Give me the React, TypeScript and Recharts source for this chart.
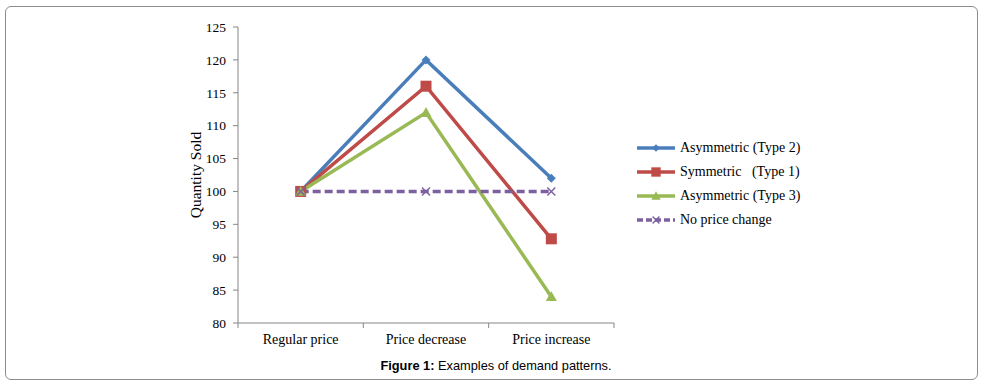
import { LineChart, Line, XAxis, YAxis } from 'recharts';

const categories = ['Regular price', 'Price decrease', 'Price increase'];
const asymType2 = [100, 120, 102];
const symType1 = [100, 116, 92.8];
const asymType3 = [100, 112, 84];
const noChange = [100, 100, 100];
const yTicks = [80, 85, 90, 95, 100, 105, 110, 115, 120, 125];

const series = [
  { key: 'type2', name: 'Asymmetric (Type 2)', color: '#4a7ebb', shape: 'diamond', dash: undefined },
  { key: 'type1', name: 'Symmetric   (Type 1)', color: '#be4b48', shape: 'square', dash: undefined },
  { key: 'type3', name: 'Asymmetric (Type 3)', color: '#98b954', shape: 'triangle', dash: undefined },
  { key: 'none', name: 'No price change', color: '#7d60a0', shape: 'cross', dash: '8 4' },
];

const data = categories.map((name, i) => ({
  x: i + 0.5,
  name,
  type2: asymType2[i],
  type1: symType1[i],
  type3: asymType3[i],
  none: noChange[i],
}));

const xTicks = [0, 0.5, 1, 1.5, 2, 2.5, 3];

const SERIF = '"Liberation Serif", "Times New Roman", serif';

function Marker({ cx, cy, shape, color, s = 1 }: any) {
  if (cx == null || cy == null) return null;
  if (shape === 'diamond') {
    const r = 4.5 * s;
    return <polygon points={`${cx},${cy - r} ${cx + r},${cy} ${cx},${cy + r} ${cx - r},${cy}`} fill={color} />;
  }
  if (shape === 'square') {
    const r = 5.5 * s;
    return <rect x={cx - r} y={cy - r} width={2 * r} height={2 * r} fill={color} />;
  }
  if (shape === 'triangle') {
    const r = 5.5 * s;
    return <polygon points={`${cx},${cy - r} ${cx + r},${cy + r * 0.8} ${cx - r},${cy + r * 0.8}`} fill={color} />;
  }
  const r = 4 * s;
  return (
    <g stroke={color} strokeWidth={1.4}>
      <line x1={cx - r} y1={cy - r} x2={cx + r} y2={cy + r} />
      <line x1={cx - r} y1={cy + r} x2={cx + r} y2={cy - r} />
    </g>
  );
}

function XTick({ x, y, payload }: any) {
  const v = payload.value;
  if (Number.isInteger(v)) {
    return <line x1={x} y1={y} x2={x} y2={y + 5} stroke="#868686" strokeWidth={1} />;
  }
  const label = categories[Math.floor(v)];
  return (
    <text x={x} y={y + 21} textAnchor="middle" fontFamily={SERIF} fontSize={14} fill="#000">
      {label}
    </text>
  );
}

export default function App() {
  return (
    <div style={{ position: 'absolute', left: 0, top: 0, width: 992, height: 390, background: '#fff' }}>
      <div
        style={{
          position: 'absolute',
          left: 5,
          top: 6,
          width: 971,
          height: 372,
          border: '1px solid #8c8c8c',
          borderRadius: 6,
        }}
      />
      <div style={{ position: 'absolute', left: 0, top: 0 }}>
        <LineChart width={992} height={390} data={data} margin={{ top: 27, right: 378, bottom: 37, left: 178 }}>
          <XAxis
            dataKey="x"
            type="number"
            domain={[0, 3]}
            ticks={xTicks}
            interval={0}
            tickLine={false}
            tickSize={0}
            tickMargin={0}
            height={30}
            stroke="#868686"
            tick={<XTick />}
          />
          <YAxis
            type="number"
            domain={[80, 125]}
            ticks={yTicks}
            interval={0}
            width={60}
            tickSize={5}
            tickMargin={7}
            stroke="#868686"
            tick={{ fill: '#000', fontFamily: SERIF, fontSize: 13.5 }}
            label={({ viewBox }: any) => {
              const cx = viewBox.x + 17;
              const cy = viewBox.y + viewBox.height / 2;
              return (
                <text
                  x={cx}
                  y={cy}
                  transform={`rotate(-90, ${cx}, ${cy})`}
                  textAnchor="middle"
                  dominantBaseline="central"
                  fontFamily={SERIF}
                  fontSize={15.5}
                  fill="#000"
                >
                  Quantity Sold
                </text>
              );
            }}
          />
          {series.map((s) => (
            <Line
              key={s.key}
              type="linear"
              dataKey={s.key}
              name={s.name}
              stroke={s.color}
              strokeWidth={3.5}
              strokeDasharray={s.dash}
              isAnimationActive={false}
              dot={(p: any) => <Marker key={`${s.key}-${p.index}`} cx={p.cx} cy={p.cy} shape={s.shape} color={s.color} />}
              activeDot={false}
            />
          ))}
        </LineChart>
      </div>
      <div style={{ position: 'absolute', left: 636, top: 136 }}>
        {series.map((s) => (
          <div key={s.key} style={{ display: 'flex', alignItems: 'center', height: 24 }}>
            <svg width={40} height={14} style={{ marginRight: 4 }}>
              <line x1={1} y1={7} x2={39} y2={7} stroke={s.color} strokeWidth={3.5} strokeDasharray={s.dash ? '6 3' : undefined} />
              <Marker cx={20} cy={7} shape={s.shape} color={s.color} s={0.85} />
            </svg>
            <span style={{ fontFamily: SERIF, fontSize: 14, color: '#000', whiteSpace: 'pre' }}>{s.name}</span>
          </div>
        ))}
      </div>
      <div
        style={{
          position: 'absolute',
          left: 0,
          width: 992,
          top: 358,
          textAlign: 'center',
          fontFamily: '"Liberation Sans", Arial, sans-serif',
          fontSize: 12.8,
          color: '#000',
        }}
      >
        <b>Figure 1:</b> Examples of demand patterns.
      </div>
    </div>
  );
}
